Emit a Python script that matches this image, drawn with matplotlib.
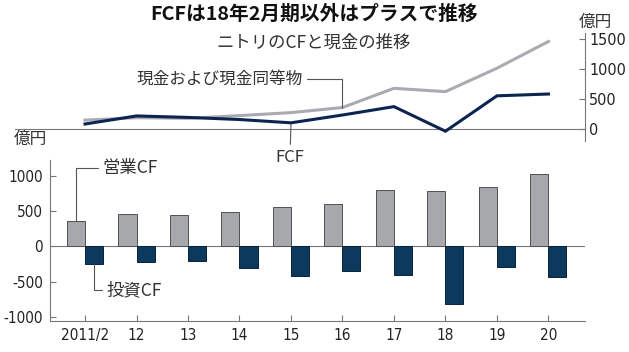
import matplotlib
matplotlib.use("Agg")
import matplotlib.pyplot as plt
from matplotlib import font_manager as fm
import numpy as np

# ---- data ----
years = ["2011/2", "12", "13", "14", "15", "16", "17", "18", "19", "20"]
operating_cf = [363, 462, 439, 482, 551, 600, 797, 783, 840, 1023]
investing_cf = [-255, -218, -208, -314, -424, -349, -406, -821, -291, -439]
fcf = [75, 210, 185, 150, 95, 225, 365, -45, 545, 575]
cash = [140, 180, 170, 215, 265, 350, 670, 615, 1005, 1450]
top_ticks = [0, 500, 1000, 1500]
bottom_ticks = [-1000, -500, 0, 500, 1000]

# ---- fonts ----
JP = "Noto Sans CJK JP"
plt.rcParams["font.family"] = [JP, "DejaVu Sans"]


def find_narrow():
    files = [f.fname for f in fm.fontManager.ttflist]
    for key in ["LiberationSansNarrow-Regular", "DejaVuSansCondensed.ttf"]:
        for fn in files:
            if key in fn:
                return fm.FontProperties(fname=fn)
    return fm.FontProperties(family=JP)


NUMP = find_narrow()
NUM_SIZE = 11

W, H = 629, 352
fig = plt.figure(figsize=(W / 100, H / 100), dpi=100)
fig.patch.set_facecolor("white")


def box(x0, y0, x1, y1):
    return [x0 / W, 1 - y1 / H, (x1 - x0) / W, (y1 - y0) / H]


def fp(x, y):
    return (x / W, 1 - y / H)


GRAY_LINE = "#a9abb3"
NAVY_LINE = "#0b2450"
GRAY_BAR = "#a6a8ab"
BLUE_BAR = "#0c3a5f"
AX_COL = "#777777"
TXT = "#222222"

x = np.arange(len(years))
xlim = (-0.68, 9.71)

# ---- top panel ----
axt = fig.add_axes(box(50, 33, 585, 141))
axt.patch.set_alpha(0)
axt.plot(x, cash, color=GRAY_LINE, lw=2.2, solid_joinstyle="miter", zorder=3)
axt.plot(x, fcf, color=NAVY_LINE, lw=2.2, solid_joinstyle="miter", zorder=4)
axt.set_xlim(*xlim)
axt.set_ylim(-208, 1592)
for s in ["top", "left", "bottom"]:
    axt.spines[s].set_visible(False)
axt.spines["right"].set_color(AX_COL)
axt.spines["right"].set_linewidth(0.8)
axt.yaxis.tick_right()
axt.set_yticks(top_ticks)
axt.set_yticklabels([str(v) for v in top_ticks], color=TXT)
for t in axt.get_yticklabels():
    t.set_fontproperties(NUMP)
    t.set_fontsize(NUM_SIZE + 0.5)
axt.tick_params(axis="y", direction="in", length=4, width=0.8, color=AX_COL, pad=3)
axt.set_xticks([])
axt.plot([-35 / 535, 1], [0, 0], transform=axt.get_yaxis_transform(),
         color=AX_COL, lw=0.8, clip_on=False, zorder=1)

# ---- bottom panel ----
axb = fig.add_axes(box(50, 160, 585, 321))
axb.patch.set_alpha(0)
w = 0.35
axb.bar(x - w / 2, operating_cf, width=w, color=GRAY_BAR, edgecolor="#505050", lw=0.7, zorder=3)
axb.bar(x + w / 2, investing_cf, width=w, color=BLUE_BAR, edgecolor="#0a2238", lw=0.7, zorder=3)
axb.axhline(0, color=AX_COL, lw=0.8, zorder=2)
axb.set_xlim(*xlim)
axb.set_ylim(-1058, 1222)
axb.spines["top"].set_visible(False)
axb.spines["right"].set_visible(False)
for s in ["left", "bottom"]:
    axb.spines[s].set_color(AX_COL)
    axb.spines[s].set_linewidth(0.8)
axb.set_yticks(bottom_ticks)
axb.set_yticklabels([str(v) for v in bottom_ticks], color=TXT)
axb.set_xticks(x)
axb.set_xticklabels(years, color=TXT)
for t in axb.get_yticklabels() + axb.get_xticklabels():
    t.set_fontproperties(NUMP)
    t.set_fontsize(NUM_SIZE)
axb.tick_params(axis="both", direction="in", length=4, width=0.8, color=AX_COL)
axb.tick_params(axis="y", pad=5)
axb.tick_params(axis="x", pad=5)

# ---- texts ----
fig.text(*fp(314, 14), "FCFは18年2月期以外はプラスで推移", ha="center", va="center",
         fontsize=14.2, fontweight="bold", color="#111111")
fig.text(*fp(314, 43), "ニトリのCFと現金の推移", ha="center", va="center",
         fontsize=12.5, color="#333333")
fig.text(*fp(595, 22), "億円", ha="center", va="center", fontsize=12, color="#333333")
fig.text(*fp(30, 139), "億円", ha="center", va="center", fontsize=12, color="#333333")

lead = dict(arrowstyle="-", color="#555555", lw=0.8, shrinkA=1, shrinkB=0)
axt.annotate("現金および現金同等物", xy=(5, cash[5]), xycoords="data",
             xytext=fp(303, 79), textcoords="figure fraction", ha="right", va="center",
             fontsize=12, color="#333333",
             arrowprops=dict(lead, connectionstyle="angle,angleA=0,angleB=90,rad=0"))
axt.annotate("FCF", xy=(4, fcf[4]), xycoords="data",
             xytext=fp(290, 157), textcoords="figure fraction", ha="center", va="center",
             fontsize=12, color="#333333", annotation_clip=False,
             arrowprops=dict(lead))
axb.annotate("営業CF", xy=(0 - w / 2, operating_cf[0]), xycoords="data",
             xytext=fp(102, 168), textcoords="figure fraction", ha="left", va="center",
             fontsize=12.5, color="#333333",
             arrowprops=dict(lead, connectionstyle="angle,angleA=180,angleB=90,rad=0"))
axb.annotate("投資CF", xy=(0 + w / 2, investing_cf[0]), xycoords="data",
             xytext=fp(106, 290), textcoords="figure fraction", ha="left", va="center",
             fontsize=12.5, color="#333333",
             arrowprops=dict(lead, connectionstyle="angle,angleA=180,angleB=90,rad=0"))

fig.savefig("out.png", dpi=100, facecolor="white")
